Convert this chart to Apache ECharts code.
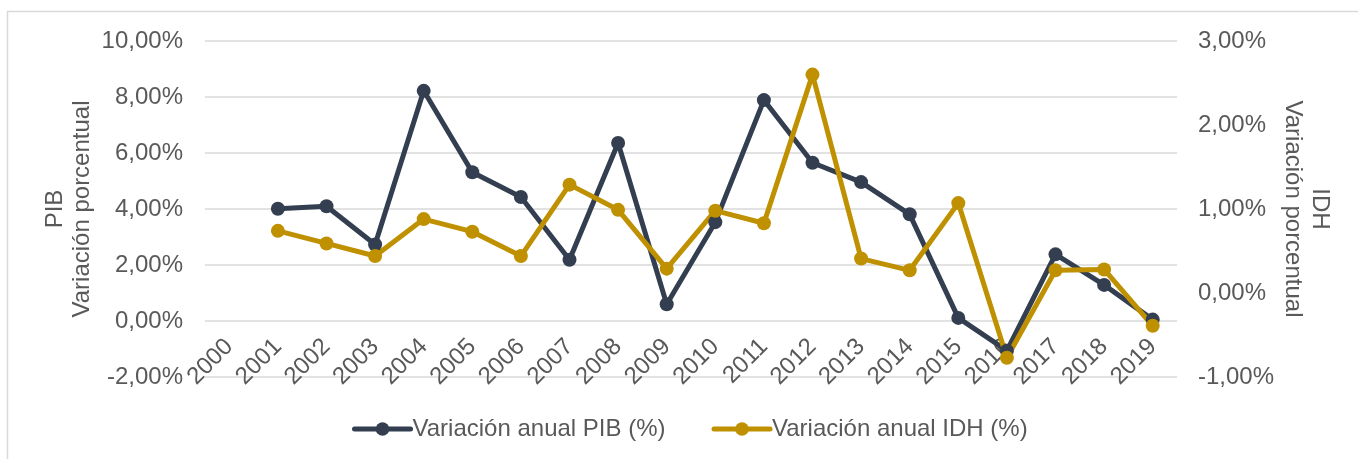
<!DOCTYPE html>
<html>
<head>
<meta charset="utf-8">
<script src="https://cdn.jsdelivr.net/npm/echarts@6/dist/echarts.min.js"></script>
<style>
  html, body { margin: 0; padding: 0; background: #fff; }
  #chart { width: 1358px; height: 459px; }
</style>
</head>
<body>
<div id="chart"></div>
<script>
// data
var years = ['2000', '2001', '2002', '2003', '2004', '2005', '2006', '2007', '2008', '2009',
  '2010', '2011', '2012', '2013', '2014', '2015', '2016', '2017', '2018', '2019']
var pib = [null, 4.01, 4.10, 2.73, 8.22, 5.31, 4.43, 2.19, 6.36, 0.60,
  3.53, 7.89, 5.65, 4.96, 3.81, 0.11, -1.06, 2.38, 1.29, 0.05]
var idh = [null, 0.74, 0.59, 0.44, 0.88, 0.73, 0.44, 1.29, 0.99, 0.29,
  0.98, 0.83, 2.60, 0.41, 0.27, 1.07, -0.77, 0.27, 0.28, -0.39]
var pibName = 'Variación anual PIB (%)'
var idhName = 'Variación anual IDH (%)'

var font = 'Liberation Sans, Arial, sans-serif'
var textColor = '#595959'

function pct(v) {
  return v.toFixed(2).replace('.', ',') + '%'
}

var chart = echarts.init(document.getElementById('chart'))
chart.setOption({
  backgroundColor: '#fff',
  animation: false,
  color: ['#333f50', '#bf9000'],
  textStyle: { fontFamily: font },
  graphic: [{
    type: 'rect',
    shape: { x: 7.5, y: 11.5, width: 1400, height: 500 },
    style: { fill: 'none', stroke: '#d9d9d9', lineWidth: 1.5 },
    silent: true
  }],
  grid: {
    left: 205,
    right: 181,
    top: 41,
    bottom: 82,
    containLabel: false
  },
  legend: {
    data: [pibName, idhName],
    left: 347,
    top: 412,
    itemWidth: 56,
    itemHeight: 17,
    itemGap: 46,
    lineStyle: { width: 5, cap: 'round' },
    textStyle: {
      fontFamily: font,
      fontSize: 24,
      color: textColor,
      padding: [0, 0, 0, -3]
    }
  },
  xAxis: {
    type: 'category',
    data: years,
    boundaryGap: true,
    offset: -56,
    axisLine: { show: false, onZero: false },
    axisTick: { show: false },
    axisLabel: {
      rotate: 45,
      margin: 22,
      interval: 0,
      fontFamily: font,
      fontSize: 24,
      color: textColor
    },
    splitLine: { show: false }
  },
  yAxis: [{
    type: 'value',
    min: -2,
    max: 10,
    interval: 2,
    position: 'left',
    name: 'PIB\nVariación porcentual',
    nameLocation: 'middle',
    nameMoveOverlap: false,
    nameGap: 109,
    nameTextStyle: {
      fontFamily: font,
      fontSize: 24,
      color: textColor,
      lineHeight: 27
    },
    axisLine: { show: false },
    axisTick: { show: false },
    axisLabel: {
      margin: 22,
      fontFamily: font,
      fontSize: 24,
      color: textColor,
      formatter: pct
    },
    splitLine: { lineStyle: { color: '#d9d9d9', width: 1.5 } }
  }, {
    type: 'value',
    min: -1,
    max: 3,
    interval: 1,
    position: 'right',
    name: 'IDH\nVariación porcentual',
    nameLocation: 'middle',
    nameMoveOverlap: false,
    nameRotate: -90,
    nameGap: 102,
    nameTextStyle: {
      fontFamily: font,
      fontSize: 24,
      color: textColor,
      lineHeight: 27
    },
    axisLine: { show: false },
    axisTick: { show: false },
    axisLabel: {
      margin: 21,
      fontFamily: font,
      fontSize: 24,
      color: textColor,
      formatter: pct
    },
    splitLine: { show: false }
  }],
  series: [{
    name: pibName,
    type: 'line',
    yAxisIndex: 0,
    data: pib,
    symbol: 'circle',
    symbolSize: 14,
    lineStyle: { width: 5 },
    itemStyle: { color: '#333f50' }
  }, {
    name: idhName,
    type: 'line',
    yAxisIndex: 1,
    data: idh,
    symbol: 'circle',
    symbolSize: 14,
    lineStyle: { width: 5 },
    itemStyle: { color: '#bf9000' }
  }]
})
</script>
</body>
</html>
